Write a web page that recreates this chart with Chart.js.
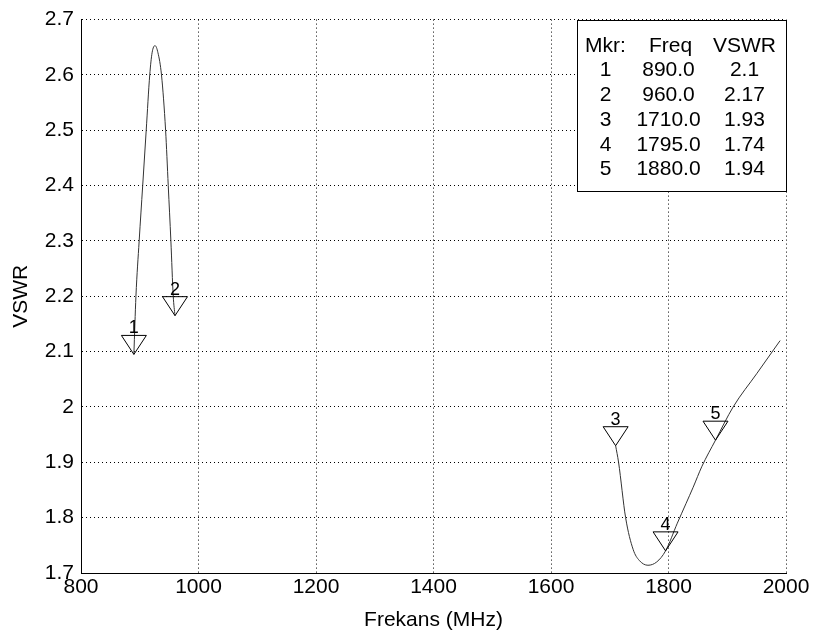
<!DOCTYPE html>
<html lang="tr">
<head>
  <meta charset="UTF-8">
  <title>VSWR</title>
  <script src="https://cdn.jsdelivr.net/npm/chart.js"></script>
  <style>
    html, body { margin: 0; padding: 0; background: #fff; }
    #wrap { width: 817px; height: 638px; }
  </style>
</head>
<body>
<div id="wrap"><canvas id="chart" width="817" height="638"></canvas></div>

<script>
  // band 1 (GSM 900) sweep
  const lowFreq = [890, 893.5, 899, 905, 911, 917, 921, 926, 931, 937, 944, 948.5, 953, 957, 960];
  const lowVswr = [2.095, 2.2, 2.3, 2.4, 2.5, 2.6, 2.64, 2.653, 2.64, 2.6, 2.5, 2.4, 2.3, 2.2, 2.165];

  // band 2 (DCS 1800) sweep
  const highFreq = [1710, 1715, 1727, 1740, 1750, 1765, 1780, 1795, 1815, 1830, 1842, 1857, 1880, 1910, 1950, 1990];
  const highVswr = [1.93, 1.90, 1.80, 1.742, 1.723, 1.714, 1.72, 1.74, 1.79, 1.826, 1.855, 1.893, 1.94, 2.0, 2.06, 2.12];

  // markers
  const markerNo = ['1', '2', '3', '4', '5'];
  const markerFreq = [890, 960, 1710, 1795, 1880];
  const markerVswr = [2.095, 2.165, 1.93, 1.74, 1.94];
  const tableFreq = ['890.0', '960.0', '1710.0', '1795.0', '1880.0'];
  const tableVswr = ['2.1', '2.17', '1.93', '1.74', '1.94'];

  const xTicks = [800, 1000, 1200, 1400, 1600, 1800, 2000];
  const yTicks = [1.7, 1.8, 1.9, 2.0, 2.1, 2.2, 2.3, 2.4, 2.5, 2.6, 2.7];

  const FONT = '"Liberation Sans", Arial, sans-serif';

  const toPts = (xs, ys) => xs.map((x, i) => ({ x: x, y: ys[i] }));

  // triangles with the tip on the marker value, number above
  const markerPlugin = {
    id: 'markers',
    afterDatasetsDraw(chart) {
      const ctx = chart.ctx;
      const xs = chart.scales.x, ys = chart.scales.y;
      ctx.save();
      ctx.strokeStyle = '#000';
      ctx.lineWidth = 1;
      ctx.fillStyle = '#000';
      ctx.font = '18px ' + FONT;
      ctx.textAlign = 'center';
      ctx.textBaseline = 'alphabetic';
      markerNo.forEach((n, i) => {
        const px = xs.getPixelForValue(markerFreq[i]);
        const py = ys.getPixelForValue(markerVswr[i]);
        ctx.beginPath();
        ctx.moveTo(px - 12.5, py - 19);
        ctx.lineTo(px + 12.5, py - 19);
        ctx.lineTo(px, py);
        ctx.closePath();
        ctx.stroke();
        ctx.fillText(n, px, py - 21);
      });
      ctx.restore();
    }
  };

  // marker readout box in the top right corner
  const tablePlugin = {
    id: 'markerTable',
    afterDraw(chart) {
      const ctx = chart.ctx;
      const a = chart.chartArea;
      const w = 209, h = 171;
      const left = Math.round(a.right - w) + 0.5, top = Math.round(a.top) + 0.5;
      ctx.save();
      ctx.fillStyle = '#fff';
      ctx.fillRect(left, top, w, h);
      ctx.strokeStyle = '#000';
      ctx.lineWidth = 1;
      ctx.strokeRect(left, top, w, h);
      ctx.fillStyle = '#000';
      ctx.font = '21px ' + FONT;
      ctx.textAlign = 'center';
      ctx.textBaseline = 'middle';
      const c1 = left + 28, c2 = left + 91, c3 = left + 167;
      let y = top + 26;
      ctx.fillText('Mkr:', c1, y);
      ctx.fillText('Freq', c2 + 2, y);
      ctx.fillText('VSWR', c3, y);
      markerNo.forEach((n, i) => {
        y = top + 50 + i * 24.8;
        ctx.fillText(n, c1, y);
        ctx.fillText(tableFreq[i], c2, y);
        ctx.fillText(tableVswr[i], c3, y);
      });
      ctx.restore();
    }
  };

  const lineStyle = {
    showLine: true,
    borderColor: '#333',
    borderWidth: 1,
    pointRadius: 0,
    fill: false,
    cubicInterpolationMode: 'monotone'
  };

  new Chart(document.getElementById('chart'), {
    type: 'scatter',
    data: {
      datasets: [
        Object.assign({ label: '900', data: toPts(lowFreq, lowVswr) }, lineStyle),
        Object.assign({ label: '1800', data: toPts(highFreq, highVswr) }, lineStyle)
      ]
    },
    options: {
      responsive: false,
      animation: false,
      devicePixelRatio: 1,
      layout: { padding: { top: 17, right: 31, left: 0, bottom: 0 } },
      plugins: { legend: { display: false }, tooltip: { enabled: false } },
      scales: {
        x: {
          type: 'linear',
          min: 800, max: 2000,
          afterBuildTicks: s => { s.ticks = xTicks.map(v => ({ value: v })); },
          afterFit: s => { s.height = 65; },
          grid: { color: '#000', lineWidth: 1, drawTicks: false },
          border: { display: true, color: '#000', width: 1, dash: [1, 3] },
          ticks: {
            color: '#000', padding: 2, font: { family: FONT, size: 21 }, maxRotation: 0,
            callback: v => String(v)
          },
          title: { display: true, text: 'Frekans (MHz)', color: '#000', font: { family: FONT, size: 21 }, padding: { top: 0, bottom: 5 } }
        },
        y: {
          type: 'linear',
          min: 1.7, max: 2.7,
          afterBuildTicks: s => { s.ticks = yTicks.map(v => ({ value: v })); },
          afterFit: s => { s.width = 81; },
          grid: { color: '#000', lineWidth: 1, drawTicks: false },
          border: { display: true, color: '#000', width: 1, dash: [1, 3] },
          ticks: {
            color: '#000', padding: 7, font: { family: FONT, size: 21 },
            callback: v => String(Number(v.toFixed(1)))
          },
          title: { display: true, text: 'VSWR', color: '#000', font: { family: FONT, size: 21 }, padding: { top: 9, bottom: 0 } }
        }
      }
    },
    plugins: [markerPlugin, tablePlugin]
  });
</script>
</body>
</html>
